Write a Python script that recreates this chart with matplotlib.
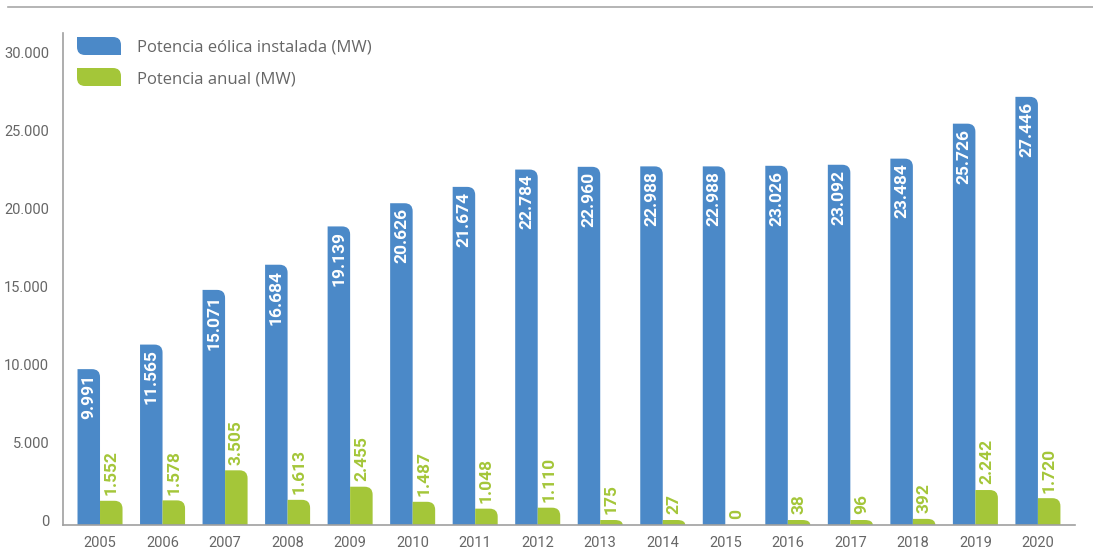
import numpy as np
import matplotlib
matplotlib.use('Agg')
import matplotlib.pyplot as plt
import matplotlib.transforms as mtrans
from matplotlib.path import Path
from matplotlib.patches import PathPatch
from matplotlib.lines import Line2D

years = ['2005', '2006', '2007', '2008', '2009', '2010', '2011', '2012',
         '2013', '2014', '2015', '2016', '2017', '2018', '2019', '2020']
instalada = [9991, 11565, 15071, 16684, 19139, 20626, 21674, 22784,
             22960, 22988, 22988, 23026, 23092, 23484, 25726, 27446]
anual = [1552, 1578, 3505, 1613, 2455, 1487, 1048, 1110,
         175, 27, 0, 38, 96, 392, 2242, 1720]
yticks = [0, 5000, 10000, 15000, 20000, 25000, 30000]
legend_labels = ['Potencia eólica instalada (MW)', 'Potencia anual (MW)']

BLUE = '#4b89c8'
GREEN = '#a4c639'
GRAY_TXT = '#666666'
AXIS_GRAY = '#a0a0a0'

W, H = 1093, 553
fig = plt.figure(figsize=(W / 100, H / 100), dpi=100)
ax_l, ax_r, ax_t, ax_b = 63, 1075, 33, 525
ax = fig.add_axes([ax_l / W, (H - ax_b) / H, (ax_r - ax_l) / W, (ax_b - ax_t) / H])

xmin, xmax = -0.592, 15.593
ymax = 31538
ax.set_xlim(xmin, xmax)
ax.set_ylim(0, ymax)

px_x = (ax_r - ax_l) / (xmax - xmin)
px_y = (ax_b - ax_t) / ymax


def leaf_path(x0, y0, w, h, rx, ry, tr=True, bl=False):
    x1, y1 = x0 + w, y0 + h
    ry = min(ry, h)
    verts, codes = [], []
    if bl:
        verts += [(x0, y0 + ry), (x0, y0), (x0 + rx, y0)]
        codes += [Path.MOVETO, Path.CURVE3, Path.CURVE3]
    else:
        verts += [(x0, y0)]
        codes += [Path.MOVETO]
    verts += [(x1, y0)]
    codes += [Path.LINETO]
    if tr:
        verts += [(x1, y1 - ry), (x1, y1), (x1 - rx, y1)]
        codes += [Path.LINETO, Path.CURVE3, Path.CURVE3]
    else:
        verts += [(x1, y1)]
        codes += [Path.LINETO]
    verts += [(x0, y1), (x0, y0)]
    codes += [Path.LINETO, Path.CLOSEPOLY]
    return Path(verts, codes)


x = np.arange(len(years))
bw = 0.36
min_h = 5 / px_y
radius = 8

bars_b = ax.bar(x - bw, instalada, bw, align='edge', color=BLUE)
bars_g = ax.bar(x, [max(v, min_h) if v > 0 else 0 for v in anual], bw,
                align='edge', color=GREEN)

# swap the plain rectangles for bars with a rounded top-right corner
for bars, col in ((bars_b, BLUE), (bars_g, GREEN)):
    for b in bars:
        h = b.get_height()
        b.set_visible(False)
        if h <= 0:
            continue
        p = leaf_path(b.get_x(), 0, b.get_width(), h, radius / px_x, radius / px_y)
        ax.add_patch(PathPatch(p, facecolor=col, edgecolor='none', zorder=2))

lab_font = dict(family=['Roboto', 'DejaVu Sans'], fontweight='bold', fontsize=12.5)
for i, v in enumerate(instalada):
    ax.annotate(f'{v:,}'.replace(',', '.'), (x[i] - bw / 2, v),
                xytext=(0, -3.5), textcoords='offset points',
                ha='center', va='top', rotation=90, color='white', zorder=3, **lab_font)
for i, v in enumerate(anual):
    top = max(v, min_h) if v > 0 else 0
    ax.annotate(f'{v:,}'.replace(',', '.'), (x[i] + bw / 2, top),
                xytext=(0, 4), textcoords='offset points',
                ha='center', va='bottom', rotation=90, color=GREEN, zorder=3, **lab_font)

for s in ['top', 'right']:
    ax.spines[s].set_visible(False)
for s in ['left', 'bottom']:
    ax.spines[s].set_color(AXIS_GRAY)
    ax.spines[s].set_linewidth(1.2)

ax.set_xticks(x)
ax.set_xticklabels(years)
ax.set_yticks(yticks)
ax.set_yticklabels([f'{t:,}'.replace(',', '.') for t in yticks])
ax.tick_params(length=0, colors=GRAY_TXT)
ax.tick_params(axis='x', pad=8)
ax.tick_params(axis='y', pad=10)
for t in ax.get_xticklabels() + ax.get_yticklabels():
    t.set_family(['Roboto', 'DejaVu Sans'])
    t.set_fontsize(10.5)
# y labels sit a few pixels above their gridline value in the original
shift_up = mtrans.ScaledTranslation(0, 4 / 100, fig.dpi_scale_trans)
for t in ax.get_yticklabels():
    t.set_transform(t.get_transform() + shift_up)

# top rule
fig.add_artist(Line2D([8 / W, 1.0], [(H - 7) / H] * 2, color='#a8a8a8', lw=1.2))

# legend
for k, (lab, col) in enumerate(zip(legend_labels, [BLUE, GREEN])):
    top = 37 + k * 31
    sw = leaf_path(77 / W, (H - top - 18) / H, 44 / W, 18 / H, 8 / W, 8 / H, tr=True, bl=True)
    fig.add_artist(PathPatch(sw, facecolor=col, edgecolor='none', transform=fig.transFigure))
    fig.text(137 / W, (H - top - 11) / H, lab, ha='left', va='center', color=GRAY_TXT,
             fontsize=12, family=['Open Sans', 'DejaVu Sans'])

fig.savefig('out.png', dpi=100)
